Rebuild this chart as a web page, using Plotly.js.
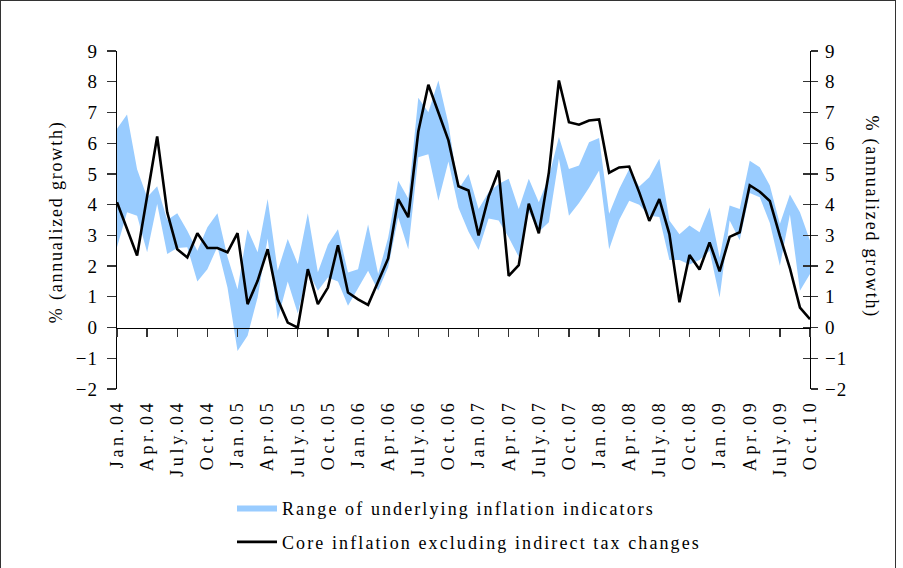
<!DOCTYPE html>
<html>
<head>
<meta charset="utf-8">
<script src="https://cdn.plot.ly/plotly-3.0.1.min.js"></script>
<style>
  html, body { margin: 0; padding: 0; background: #fff; }
  #frame { position: absolute; left: 0; top: 0; width: 896px; height: 600px; border: 1px solid #333; box-sizing: border-box; }
  #chart { position: absolute; left: 0; top: 0; width: 903px; height: 568px; }
  #chart .xtick text { letter-spacing: 3.7px; }
  #chart .ytick text, #chart .y2tick text { letter-spacing: 1px; }
  #chart .legendtext { letter-spacing: 2.1px; }
  #chart .legend .scrollbox, #chart .legend { clip-path: none !important; }
  #chart .annotation-text { letter-spacing: 1.8px; }
</style>
</head>
<body>
<div id="frame"></div>
<div id="chart"></div>
<script>
// Tick labels (every third month, Jan.04 ... as printed in the original)
const tickLabels = ["Jan.04","Apr.04","July.04","Oct.04","Jan.05","Apr.05","July.05","Oct.05",
  "Jan.06","Apr.06","July.06","Oct.06","Jan.07","Apr.07","July.07","Oct.07",
  "Jan.08","Apr.08","July.08","Oct.08","Jan.09","Apr.09","July.09","Oct.10"];

// Core inflation excluding indirect tax changes, monthly Jan.04 - Oct.09
const coreInflation = [4.08,3.2,2.34,4.27,6.22,3.75,2.55,2.28,3.07,2.59,2.59,2.45,
  3.07,0.76,1.52,2.55,0.92,0.16,0.0,1.9,0.76,1.3,2.68,1.14,
  0.92,0.74,1.5,2.25,4.18,3.59,6.38,7.9,7.0,6.09,4.6,4.46,
  3.0,4.26,5.11,1.68,2.03,4.03,3.07,5.05,8.04,6.68,6.6,6.74,
  6.77,5.04,5.21,5.24,4.4,3.47,4.18,3.04,0.82,2.36,1.89,2.77,
  1.83,2.95,3.1,4.63,4.42,4.12,2.98,1.93,0.65,0.27];

// Range of underlying inflation indicators: upper and lower bounds
const rangeUpper = [6.47,6.93,5.15,4.24,4.6,3.5,3.72,3.15,2.5,3.26,3.72,2.3,
  1.25,3.2,2.45,4.18,1.85,2.88,2.07,3.72,1.8,2.7,3.2,1.79,
  1.9,3.35,1.74,2.93,4.78,4.2,7.48,7.01,8.04,6.63,4.5,5.0,
  3.86,4.4,4.67,4.84,3.86,4.84,4.08,4.9,6.2,5.16,5.27,6.03,
  6.17,3.7,4.51,5.16,4.59,4.89,5.49,3.48,3.04,3.32,3.1,3.91,
  2.28,3.97,3.86,5.43,5.22,4.62,3.37,4.33,3.75,2.83];
const rangeLower = [2.61,3.75,3.64,2.45,4.02,2.39,2.59,2.61,1.5,1.9,2.63,1.3,
  -0.76,-0.27,0.98,2.9,0.27,1.5,0.46,1.85,1.2,1.63,1.5,0.71,
  1.28,1.85,1.2,1.96,3.59,2.55,5.54,5.64,4.13,5.4,3.9,3.12,
  2.52,3.55,3.48,2.93,2.3,3.78,3.12,3.43,5.5,3.64,4.05,4.55,
  5.11,2.55,3.5,4.13,4.0,3.64,3.6,2.2,2.2,2.05,2.2,2.5,
  0.98,3.48,2.84,4.38,4.24,3.4,2.01,3.68,1.2,1.74];

const seriesNames = ["Range of underlying inflation indicators", "Core inflation excluding indirect tax changes"];

const xIdx = coreInflation.map((_, i) => i);
const tickIdx = tickLabels.map((_, k) => k * 3);

const FONT = "Liberation Serif, Times New Roman, serif";
const BLUE = "#99CCFF";

const traces = [
  { x: xIdx, y: rangeLower, type: "scatter", mode: "lines", line: { width: 0, color: BLUE },
    showlegend: false, hoverinfo: "skip", legendgroup: "a" },
  { x: xIdx, y: rangeUpper, type: "scatter", mode: "lines", line: { width: 0, color: BLUE },
    fill: "tonexty", fillcolor: BLUE, name: seriesNames[0], legendgroup: "a" },
  { x: xIdx, y: coreInflation, type: "scatter", mode: "lines", xaxis: "x2", yaxis: "y2",
    line: { color: "#000000", width: 2.6 }, name: seriesNames[1], legendgroup: "b" },
  { x: [null], y: [null], type: "scatter", mode: "lines", xaxis: "x", yaxis: "y3",
    showlegend: false, hoverinfo: "skip" }
];

const yTicks = { range: [-2, 9], tickmode: "linear", tick0: -2, dtick: 1, showgrid: false, zeroline: false,
  showline: true, linecolor: "#000", linewidth: 1.3, tickcolor: "#333", tickwidth: 1.3, automargin: false };

const layout = {
  width: 903, height: 568,
  margin: { l: 117, r: 93, t: 51, b: 179, autoexpand: false },
  paper_bgcolor: "rgba(0,0,0,0)", plot_bgcolor: "rgba(0,0,0,0)",
  font: { family: FONT, size: 18, color: "#000" },
  xaxis: { range: [0, 69], tickmode: "array", tickvals: tickIdx, ticktext: tickLabels, tickangle: -90,
    showgrid: false, zeroline: false, showline: false, ticks: "", ticklabelstandoff: 6, automargin: false,
    tickfont: { family: FONT, size: 18 } },
  xaxis2: { range: [0, 69], overlaying: "x", anchor: "free", position: 2 / 11, side: "bottom", automargin: false,
    tickmode: "array", tickvals: tickIdx, showticklabels: false, showgrid: false, zeroline: false,
    showline: true, linecolor: "#000", linewidth: 1.5, ticks: "outside", ticklen: 8, tickcolor: "#333", tickwidth: 1.3 },
  yaxis: Object.assign({}, yTicks, { ticks: "outside", ticklen: 9, tickfont: { family: FONT, size: 19 }, ticklabelstandoff: 5 }),
  yaxis2: Object.assign({}, yTicks, { overlaying: "y", side: "right", anchor: "x2", ticks: "outside", ticklen: 7,
    tickfont: { family: FONT, size: 19 }, ticklabelstandoff: 3 }),
  yaxis3: Object.assign({}, yTicks, { overlaying: "y", side: "right", anchor: "x", ticks: "inside", ticklen: 7,
    showticklabels: false }),
  showlegend: true,
  legend: { x: (232 - 117) / 693, xanchor: "left", y: (388.7 - 489) / 338, yanchor: "top",
    traceorder: "grouped", tracegroupgap: 8, itemwidth: 40, font: { family: FONT, size: 18 }, bgcolor: "rgba(0,0,0,0)" },
  annotations: [
    { text: "% (annualized growth)", xref: "paper", yref: "paper", x: (56 - 117) / 693, y: (388.7 - 222) / 338,
      xanchor: "center", yanchor: "middle", showarrow: false, textangle: -90, font: { family: FONT, size: 18 } },
    { text: "% (annualized growth)", xref: "paper", yref: "paper", x: (872 - 117) / 693, y: (388.7 - 216) / 338,
      xanchor: "center", yanchor: "middle", showarrow: false, textangle: 90, font: { family: FONT, size: 18 } }
  ]
};

Plotly.newPlot("chart", traces, layout, { displayModeBar: false, staticPlot: true });
</script>
</body>
</html>
